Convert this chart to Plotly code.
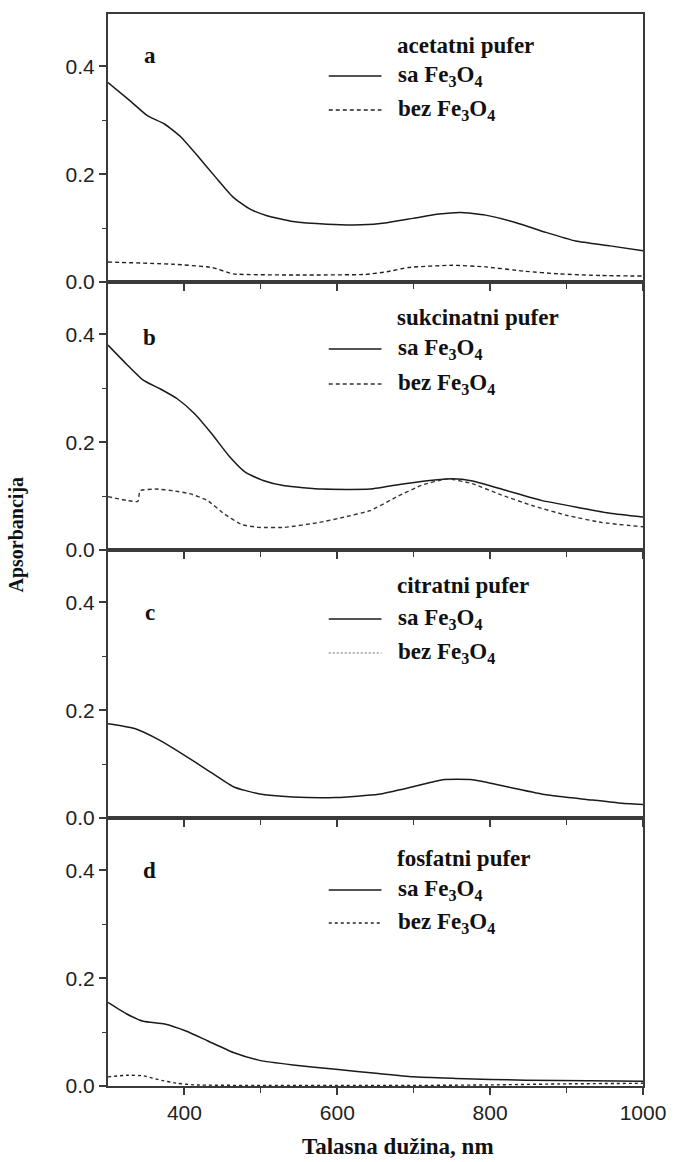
import plotly.graph_objects as go
from plotly.subplots import make_subplots

# ---- spectra (wavelength in nm, absorbance) ----
panel_letters = ["a", "b", "c", "d"]
buffer_names = ["acetatni pufer", "sukcinatni pufer", "citratni pufer", "fosfatni pufer"]
series_names = ["sa Fe<sub>3</sub>O<sub>4</sub>", "bez Fe<sub>3</sub>O<sub>4</sub>"]

# a: acetate buffer
wl_a_sa = [300, 329, 352, 374, 396, 419, 441, 464, 486, 508, 542, 587, 632, 665, 699, 733, 761, 794, 834, 873, 912, 957, 1000]
abs_a_sa = [0.370, 0.336, 0.308, 0.293, 0.268, 0.231, 0.194, 0.157, 0.135, 0.123, 0.112, 0.107, 0.106, 0.110, 0.118, 0.126, 0.129, 0.124, 0.110, 0.092, 0.076, 0.067, 0.058]
wl_a_bez = [300, 385, 436, 464, 553, 637, 665, 693, 750, 794, 845, 890, 946, 1000]
abs_a_bez = [0.037, 0.033, 0.027, 0.015, 0.013, 0.014, 0.019, 0.027, 0.031, 0.028, 0.020, 0.015, 0.012, 0.011]

# b: succinate buffer
wl_b_sa = [300, 324, 346, 368, 391, 413, 436, 458, 480, 503, 531, 581, 643, 688, 721, 750, 777, 822, 867, 918, 957, 1000]
abs_b_sa = [0.380, 0.345, 0.315, 0.299, 0.280, 0.253, 0.215, 0.175, 0.144, 0.129, 0.119, 0.113, 0.113, 0.123, 0.129, 0.132, 0.128, 0.110, 0.092, 0.078, 0.068, 0.061]
wl_b_bez = [300, 324, 339, 342, 363, 385, 408, 430, 452, 475, 497, 531, 576, 609, 643, 677, 710, 744, 777, 811, 856, 901, 946, 1000]
abs_b_bez = [0.099, 0.092, 0.090, 0.110, 0.113, 0.110, 0.104, 0.092, 0.067, 0.047, 0.042, 0.042, 0.051, 0.061, 0.073, 0.098, 0.120, 0.132, 0.123, 0.104, 0.082, 0.064, 0.051, 0.043]

# c: citrate buffer
wl_c_sa = [300, 335, 368, 396, 430, 464, 497, 542, 598, 654, 699, 738, 777, 822, 873, 929, 968, 1000]
abs_c_sa = [0.175, 0.166, 0.144, 0.120, 0.089, 0.058, 0.045, 0.039, 0.038, 0.044, 0.058, 0.071, 0.071, 0.058, 0.043, 0.034, 0.028, 0.025]
wl_c_bez = [300, 400, 500, 600, 700, 800, 900, 1000]
abs_c_bez = [0.001, 0.001, 0.001, 0.001, 0.001, 0.001, 0.001, 0.001]

# d: phosphate buffer
wl_d_sa = [300, 324, 346, 374, 402, 430, 464, 497, 542, 598, 654, 699, 755, 800, 890, 1000]
abs_d_sa = [0.155, 0.134, 0.120, 0.115, 0.102, 0.084, 0.062, 0.048, 0.039, 0.031, 0.023, 0.017, 0.014, 0.012, 0.010, 0.009]
wl_d_bez = [300, 324, 346, 368, 391, 413, 500, 600, 700, 800, 900, 1000]
abs_d_bez = [0.017, 0.020, 0.019, 0.011, 0.005, 0.002, 0.001, 0.001, 0.001, 0.002, 0.004, 0.005]

panels = [
    (wl_a_sa, abs_a_sa, wl_a_bez, abs_a_bez),
    (wl_b_sa, abs_b_sa, wl_b_bez, abs_b_bez),
    (wl_c_sa, abs_c_sa, wl_c_bez, abs_c_bez),
    (wl_d_sa, abs_d_sa, wl_d_bez, abs_d_bez),
]

# ---- figure geometry (pixels) ----
W, H = 678, 1162
L, R, T, B = 108, 646, 14, 1086
PANEL_H = (B - T) / 4

def px(x):
    return (x - L) / (R - L)

def py(y):
    return 1 - (y - T) / (B - T)

SERIF = "Liberation Serif"
SANS = "Liberation Sans"
AXIS_COLOR = "#3a3a3a"

fig = make_subplots(rows=4, cols=1, shared_xaxes=False, vertical_spacing=0)

dash_styles = ["4px,3px", "4px,3px", "2px,2px", "3px,3px"]
dash_colors = ["#222", "#333", "#9a9a9a", "#222"]

for i, (xs, ys, xd, yd) in enumerate(panels):
    row = i + 1
    fig.add_trace(go.Scatter(x=xs, y=ys, mode="lines", name=series_names[0],
                             line=dict(color="#1a1a1a", width=1.5, shape="spline", smoothing=0.5),
                             showlegend=False), row=row, col=1)
    fig.add_trace(go.Scatter(x=xd, y=yd, mode="lines", name=series_names[1],
                             line=dict(color=dash_colors[i], width=1.4, dash=dash_styles[i],
                                       shape="spline", smoothing=0.4),
                             showlegend=False), row=row, col=1)

    fig.update_yaxes(row=row, col=1, range=[0, 0.497],
                     tickvals=[0, 0.2, 0.4], ticktext=["0.0", "0.2", "0.4"],
                     ticks="outside", ticklen=7, tickwidth=1.5, tickcolor=AXIS_COLOR,
                     minor=dict(tickvals=[0.1, 0.3], ticks="outside", ticklen=4,
                                tickwidth=1.2, tickcolor=AXIS_COLOR),
                     showline=True, linecolor=AXIS_COLOR, linewidth=2, mirror=True,
                     showgrid=False, zeroline=False,
                     tickfont=dict(family=SANS, size=21, color="#222"))
    fig.update_xaxes(row=row, col=1, range=[300, 1000],
                     tickvals=[400, 600, 800, 1000],
                     ticks="outside", ticklen=7, tickwidth=1.5, tickcolor=AXIS_COLOR,
                     minor=dict(tickvals=[500, 700, 900], ticks="outside", ticklen=5,
                                tickwidth=1.2, tickcolor=AXIS_COLOR),
                     showline=True, linecolor=AXIS_COLOR, linewidth=2, mirror=True,
                     showgrid=False, zeroline=False,
                     showticklabels=(row == 4),
                     tickfont=dict(family=SANS, size=21, color="#222"))

# ---- panel letters and per-panel legends ----
letter_y = [41, 55, 62, 52]
title_y = [32, 35, 35, 40]
item_y = [[62, 96], [67, 102], [69, 103], [72, 105]]

annotations = []
shapes = []
for i in range(4):
    top = T + i * PANEL_H
    annotations.append(dict(text="<b>%s</b>" % panel_letters[i], xref="paper", yref="paper",
                            x=px(150), y=py(top + letter_y[i]), showarrow=False,
                            xanchor="center", yanchor="middle",
                            font=dict(family=SERIF, size=23, color="#111")))
    annotations.append(dict(text="<b>%s</b>" % buffer_names[i], xref="paper", yref="paper",
                            x=px(397), y=py(top + title_y[i]), showarrow=False,
                            xanchor="left", yanchor="middle",
                            font=dict(family=SERIF, size=23, color="#111")))
    for k in range(2):
        yy = top + item_y[i][k]
        annotations.append(dict(text="<b>%s</b>" % series_names[k], xref="paper", yref="paper",
                                x=px(398), y=py(yy), showarrow=False,
                                xanchor="left", yanchor="middle",
                                font=dict(family=SERIF, size=23, color="#111")))
        line_style = dict(color="#1a1a1a", width=1.5) if k == 0 else \
            dict(color=dash_colors[i], width=1.4, dash=dash_styles[i])
        shapes.append(dict(type="line", xref="paper", yref="paper",
                           x0=px(330), x1=px(383), y0=py(yy), y1=py(yy), line=line_style))

# axis titles
annotations.append(dict(text="<b>Apsorbancija</b>", xref="paper", yref="paper",
                        x=px(15), y=py(535), showarrow=False, textangle=-90,
                        xanchor="center", yanchor="middle",
                        font=dict(family=SERIF, size=20, color="#111")))
annotations.append(dict(text="<b>Talasna dužina, nm</b>", xref="paper", yref="paper",
                        x=px(400), y=py(1146), showarrow=False,
                        xanchor="center", yanchor="middle",
                        font=dict(family=SERIF, size=23, color="#111")))

fig.update_layout(width=W, height=H,
                  margin=dict(l=L, r=W - R, t=T, b=H - B),
                  paper_bgcolor="white", plot_bgcolor="rgba(0,0,0,0)",
                  showlegend=False,
                  annotations=annotations, shapes=shapes)

fig.write_html("out.html")
